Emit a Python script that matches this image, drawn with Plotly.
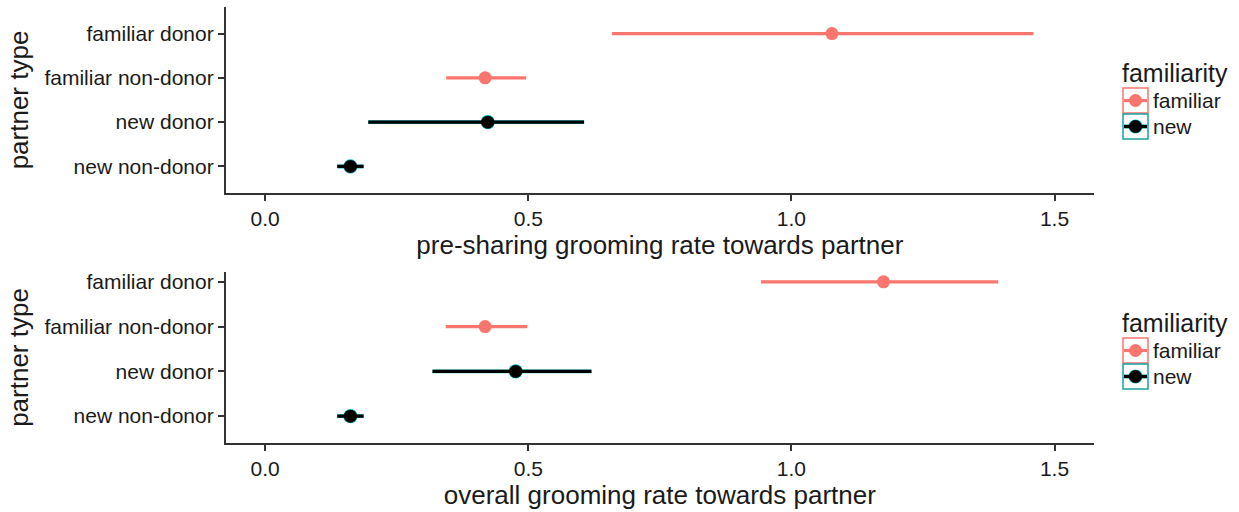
import plotly.graph_objects as go

# ---------------- data ----------------
categories = ["familiar donor", "familiar non-donor", "new donor", "new non-donor"]
familiarity = ["familiar", "familiar", "new", "new"]

pre_mean = [1.077, 0.418, 0.423, 0.162]
pre_lo = [0.659, 0.344, 0.196, 0.137]
pre_hi = [1.460, 0.496, 0.606, 0.187]

all_mean = [1.175, 0.418, 0.476, 0.162]
all_lo = [0.942, 0.343, 0.318, 0.137]
all_hi = [1.393, 0.498, 0.620, 0.187]

x_ticks = [0.0, 0.5, 1.0, 1.5]
x_ticklabels = ["0.0", "0.5", "1.0", "1.5"]
groups = ["familiar", "new"]
x_titles = ["pre-sharing grooming rate towards partner", "overall grooming rate towards partner"]
legend_title = "familiarity"

# ---------------- style ----------------
W, H = 1239, 512
FONT = "Liberation Sans, Arial, Helvetica, sans-serif"
RED = "#F8766D"
TEAL = "#00BFC4"
BLACK = "#000000"
TXT = "#1a1a1a"
AX = "#333333"
TICK_SIZE = 21
TITLE_SIZE = 26

fig = go.Figure()


def add_panel(mean, lo, hi, xa, ya):
    for g in groups:
        idx = [i for i, f in enumerate(familiarity) if f == g]
        xs = [mean[i] for i in idx]
        ys = [categories[i] for i in idx]
        plus = [hi[i] - mean[i] for i in idx]
        minus = [mean[i] - lo[i] for i in idx]
        if g == "new":
            # thin teal halo underneath the black marks
            fig.add_trace(go.Scatter(
                x=xs, y=ys, mode="markers", xaxis=xa, yaxis=ya, showlegend=False,
                hoverinfo="skip",
                marker=dict(color=TEAL, size=14.2),
                error_x=dict(type="data", symmetric=False, array=plus, arrayminus=minus,
                             color=TEAL, thickness=3.9, width=0),
            ))
            col = BLACK
        else:
            col = RED
        fig.add_trace(go.Scatter(
            x=xs, y=ys, mode="markers", xaxis=xa, yaxis=ya, showlegend=False, name=g,
            marker=dict(color=col, size=13),
            error_x=dict(type="data", symmetric=False, array=plus, arrayminus=minus,
                         color=col, thickness=3.2, width=0),
        ))


add_panel(pre_mean, pre_lo, pre_hi, "x", "y")
add_panel(all_mean, all_lo, all_hi, "x2", "y2")

xdom = [225.7 / W, 1094 / W]
ydom_top = [1 - 193 / H, 1 - 7 / H]
ydom_bot = [1 - 443 / H, 1 - 272 / H]

cat_order = list(reversed(categories))

common_x = dict(
    range=[-0.075, 1.575], tickvals=x_ticks, ticktext=x_ticklabels,
    showline=True, linecolor=AX, linewidth=1.6, ticks="outside", ticklen=6,
    tickwidth=1.5, tickcolor=AX, showgrid=False, zeroline=False, automargin=False,
    tickfont=dict(family=FONT, size=TICK_SIZE, color=TXT), domain=xdom, fixedrange=True,
)
common_y = dict(
    type="category", categoryorder="array", categoryarray=cat_order,
    showline=True, linecolor=AX, linewidth=1.6, ticks="outside", ticklen=6,
    tickwidth=1.5, tickcolor=AX, showgrid=False, zeroline=False, automargin=False,
    tickfont=dict(family=FONT, size=TICK_SIZE, color=TXT), fixedrange=True,
    title=dict(text="partner type", font=dict(family=FONT, size=TITLE_SIZE, color=TXT), standoff=8),
)

fig.update_layout(
    width=W, height=H,
    margin=dict(l=0, r=0, t=0, b=0),
    paper_bgcolor="white", plot_bgcolor="white",
    font=dict(family=FONT, color=TXT),
    showlegend=False,
    xaxis=dict(**common_x, anchor="y",
               title=dict(text=x_titles[0], font=dict(family=FONT, size=TITLE_SIZE, color=TXT), standoff=4)),
    yaxis=dict(**common_y, domain=ydom_top, range=[-0.6, 3.6], anchor="x"),
    xaxis2=dict(**common_x, anchor="y2",
                title=dict(text=x_titles[1], font=dict(family=FONT, size=TITLE_SIZE, color=TXT), standoff=4)),
    yaxis2=dict(**common_y, domain=ydom_bot, range=[-0.6, 3.22], anchor="x2"),
)

# ---------------- ggplot-style legends (one per panel) ----------------
def px_x(v):
    return v / W


def px_y(v):
    return 1 - v / H


for off in [0, 250]:
    fig.add_annotation(text=legend_title, xref="paper", yref="paper",
                       x=px_x(1120), y=px_y(73 + off), xanchor="left", yanchor="middle",
                       showarrow=False, font=dict(family=FONT, size=25, color=TXT))
    for k, g in enumerate(groups):
        top = 88 + 26 * k + off
        cy = top + 12.5
        box_col = RED if g == "familiar" else "#1d9fa2"
        col = RED if g == "familiar" else BLACK
        # key box
        fig.add_shape(type="rect", xref="paper", yref="paper",
                      x0=px_x(1123), x1=px_x(1148), y0=px_y(top + 25), y1=px_y(top),
                      line=dict(color=box_col, width=1.5), fillcolor="white")
        if g == "new":
            fig.add_shape(type="line", xref="paper", yref="paper",
                          x0=px_x(1124), x1=px_x(1147), y0=px_y(cy), y1=px_y(cy),
                          line=dict(color=TEAL, width=3.9))
            fig.add_shape(type="circle", xref="paper", yref="paper",
                          x0=px_x(1135.5 - 7.1), x1=px_x(1135.5 + 7.1),
                          y0=px_y(cy + 7.1), y1=px_y(cy - 7.1),
                          line=dict(width=0), fillcolor=TEAL)
        fig.add_shape(type="line", xref="paper", yref="paper",
                      x0=px_x(1124), x1=px_x(1147), y0=px_y(cy), y1=px_y(cy),
                      line=dict(color=col, width=3.2))
        fig.add_shape(type="circle", xref="paper", yref="paper",
                      x0=px_x(1135.5 - 6.5), x1=px_x(1135.5 + 6.5),
                      y0=px_y(cy + 6.5), y1=px_y(cy - 6.5),
                      line=dict(width=0), fillcolor=col)
        fig.add_annotation(text=g, xref="paper", yref="paper",
                           x=px_x(1151), y=px_y(cy), xanchor="left", yanchor="middle",
                           showarrow=False, font=dict(family=FONT, size=21, color=TXT))

# remove the default page margin so the figure sits at the window's top-left corner
fig.write_html("out.html", config={"displayModeBar": False},
               post_script="document.body.style.margin='0';document.body.style.overflow='hidden';")
